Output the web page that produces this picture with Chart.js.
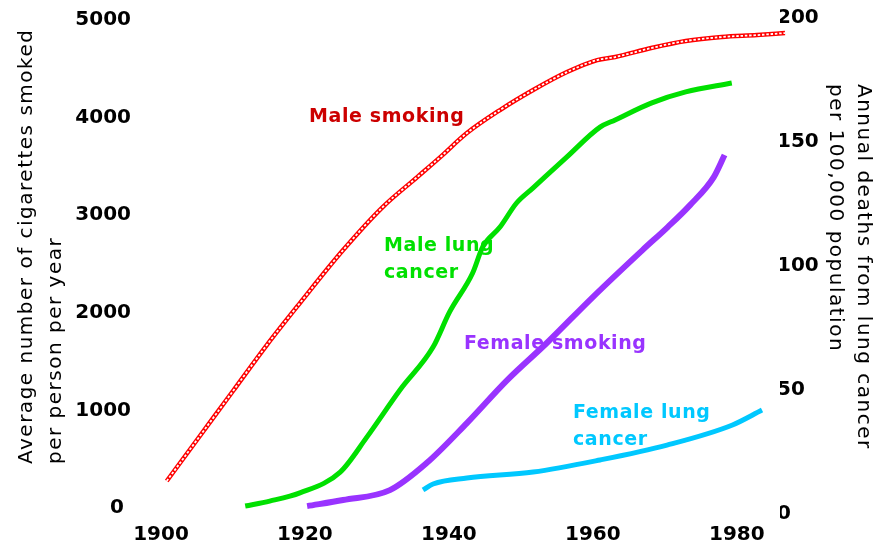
<!DOCTYPE html>
<html><head><meta charset="utf-8">
<script src="https://cdn.jsdelivr.net/npm/chart.js@4/dist/chart.umd.min.js"></script>
<style>html,body{margin:0;padding:0;background:#fff;overflow:hidden}canvas{display:block}</style>
</head><body>
<canvas id="c" width="874" height="555"></canvas>
<script>
// ---- data ----
const xTickYears = [1900, 1920, 1940, 1960, 1980];
const leftTicks = [0, 1000, 2000, 3000, 4000, 5000];
const rightTicks = [0, 50, 100, 150, 200];

const maleSmokingYears  = [1900.8, 1905.4, 1910.0, 1914.7, 1919.3, 1925.3, 1930.8, 1935.6, 1938.8, 1942.5, 1947.1, 1951.7, 1956.4, 1960.6, 1963.1, 1968.1, 1972.9, 1977.9, 1982.8, 1986.7];
const maleSmokingValues = [277, 738, 1199, 1670, 2100, 2643, 3084, 3391, 3596, 3842, 4078, 4283, 4467, 4590, 4621, 4713, 4785, 4826, 4846, 4867];

const maleCancerYears  = [1911.7, 1915.1, 1919.3, 1924.9, 1928.6, 1933.2, 1937.8, 1940.1, 1943.3, 1944.7, 1947.1, 1949.4, 1951.7, 1956.4, 1961.0, 1963.1, 1968.1, 1972.9, 1979.3];
const maleCancerValues = [3.2, 5.2, 8.5, 16.9, 31.0, 50.0, 67.3, 81.5, 97.2, 107.7, 115.7, 125.4, 131.5, 144.0, 156.0, 158.9, 165.7, 170.2, 173.8];

const femaleSmokingYears  = [1920.3, 1925.3, 1931.8, 1936.9, 1942.5, 1948.1, 1953.6, 1960.0, 1966.9, 1970.4, 1973.5, 1976.8, 1978.3];
const femaleSmokingValues = [20, 82, 184, 461, 871, 1311, 1691, 2162, 2643, 2879, 3104, 3391, 3617];

const femaleCancerYears  = [1936.4, 1937.8, 1942.5, 1951.7, 1961.0, 1970.3, 1979.4, 1983.5];
const femaleCancerValues = [9.7, 12.1, 14.5, 16.9, 21.8, 27.8, 35.9, 41.9];

const seriesNames = ['Male smoking', 'Male lung cancer', 'Female smoking', 'Female lung cancer'];
const leftTitle = ['Average number of cigarettes smoked', 'per person per year'];
const rightTitle = ['Annual deaths from lung cancer', 'per 100,000 population'];

// ---- styling / layout ----
const FONT = "'DejaVu Sans', sans-serif";
const RED = '#ff0000', RED_TXT = '#cc0000', GREEN = '#00e000', PURPLE = '#9933ff', CYAN = '#00c8ff';

const pts = (xs, ys) => xs.map((x, i) => ({ x: x, y: ys[i] }));

const annotations = [
  { lines: ['Male smoking'], color: RED_TXT, x: 309, y: 122 },
  { lines: ['Male lung', 'cancer'], color: GREEN, x: 384, y: 251 },
  { lines: ['Female smoking'], color: PURPLE, x: 464, y: 349 },
  { lines: ['Female lung', 'cancer'], color: CYAN, x: 573, y: 418 }
];

const textPlugin = {
  id: 'texts',
  beforeDatasetsDraw(chart) {
    const ctx = chart.ctx;
    ctx.save();
    ctx.textAlign = 'left';
    ctx.textBaseline = 'alphabetic';
    ctx.font = 'bold 19px ' + FONT;
    try { ctx.letterSpacing = '0.6px'; } catch (e) {}
    annotations.forEach(a => {
      ctx.fillStyle = a.color;
      a.lines.forEach((t, i) => ctx.fillText(t, a.x, a.y + i * 27));
    });
    ctx.font = '20px ' + FONT;
    try { ctx.letterSpacing = '1.5px'; } catch (e) {}
    ctx.fillStyle = '#000';
    // left title (rotated -90)
    [[32, leftTitle[0]], [61, leftTitle[1]]].forEach(([bx, t]) => {
      ctx.save(); ctx.translate(bx, 464); ctx.rotate(-Math.PI / 2); ctx.fillText(t, 0, 0); ctx.restore();
    });
    // right title (rotated +90)
    [[858, rightTitle[0]], [830, rightTitle[1]]].forEach(([bx, t]) => {
      ctx.save(); ctx.translate(bx, 84); ctx.rotate(Math.PI / 2); ctx.fillText(t, 0, 0); ctx.restore();
    });
    ctx.restore();
  }
};

const common = { pointRadius: 0, pointHoverRadius: 0, fill: false, clip: false, cubicInterpolationMode: 'monotone' };
const fitY = w => ax => { ax.width = w; ax.paddingTop = 0; ax.paddingBottom = 0; };

new Chart(document.getElementById('c'), {
  type: 'line',
  data: {
    datasets: [
      Object.assign({ label: seriesNames[0] + ' (dots)', data: pts(maleSmokingYears, maleSmokingValues), borderColor: '#ffffff', borderWidth: 1.8, borderDash: [2.5, 1.8], yAxisID: 'y', order: 0 }, common),
      Object.assign({ label: seriesNames[0], data: pts(maleSmokingYears, maleSmokingValues), borderColor: RED, borderWidth: 4.5, yAxisID: 'y', order: 1 }, common),
      Object.assign({ label: seriesNames[1], data: pts(maleCancerYears, maleCancerValues), borderColor: GREEN, borderWidth: 5, yAxisID: 'y2', order: 1 }, common),
      Object.assign({ label: seriesNames[2], data: pts(femaleSmokingYears, femaleSmokingValues), borderColor: PURPLE, borderWidth: 6, yAxisID: 'y', order: 1 }, common),
      Object.assign({ label: seriesNames[3], data: pts(femaleCancerYears, femaleCancerValues), borderColor: CYAN, borderWidth: 5, yAxisID: 'y2', order: 1 }, common)
    ]
  },
  options: {
    responsive: false,
    devicePixelRatio: 1,
    animation: false,
    events: [],
    layout: { autoPadding: false, padding: { top: 18, bottom: 0, left: 0, right: 0 } },
    plugins: { legend: { display: false }, tooltip: { enabled: false } },
    scales: {
      x: {
        type: 'linear', min: 1900, max: 1986,
        grid: { display: false, drawTicks: false }, border: { display: false },
        afterBuildTicks: ax => { ax.ticks = xTickYears.map(v => ({ value: v })); },
        afterFit: ax => { ax.height = 41; ax.paddingLeft = 0; ax.paddingRight = 0; },
        ticks: { padding: 9, color: '#000', font: { family: FONT, size: 20, weight: 'bold' }, callback: v => String(v), maxRotation: 0, autoSkip: false }
      },
      y: {
        position: 'left', min: -61, max: 5021,
        grid: { display: false, drawTicks: false }, border: { display: false },
        afterBuildTicks: ax => { ax.ticks = leftTicks.map(v => ({ value: v })); },
        afterFit: fitY(161),
        ticks: { padding: 30, color: '#000', font: { family: FONT, size: 20, weight: 'bold' }, callback: v => (v === 0 ? '0 ' : String(v)) }
      },
      y2: {
        position: 'right', min: 0, max: 200,
        grid: { display: false, drawTicks: false }, border: { display: false },
        afterBuildTicks: ax => { ax.ticks = rightTicks.map(v => ({ value: v })); },
        afterFit: fitY(94),
        ticks: { padding: -3, color: '#000', font: { family: FONT, size: 20, weight: 'bold' }, callback: v => String(v) }
      }
    }
  },
  plugins: [textPlugin]
});
</script>
</body></html>
